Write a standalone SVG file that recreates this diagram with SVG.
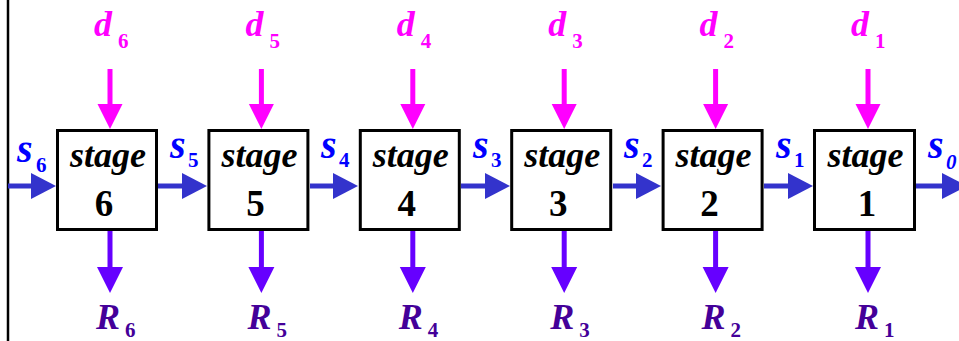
<svg xmlns="http://www.w3.org/2000/svg" width="959" height="341" viewBox="0 0 959 341">
  <style>
    text { font-family: "Liberation Serif", "Times New Roman", serif; font-weight: bold; }
    .box { fill: #ffffff; stroke: #000000; stroke-width: 3; }
    .stage { font-style: italic; font-size: 36px; fill: #000000; text-anchor: middle; }
    .num { font-size: 37px; fill: #000000; text-anchor: middle; }
    .d { fill: #ff00ff; }
    .s { fill: #0000ff; }
    .r { fill: #440099; }
    .main { font-style: italic; font-size: 36px; }
    .smain { font-style: italic; font-size: 40px; }
    .sub { font-size: 21px; }
    .din { stroke: #ff00ff; stroke-width: 5; fill: none; }
    .dhead { fill: #ff00ff; }
    .sflow { stroke: #3333cc; stroke-width: 5; fill: none; }
    .shead { fill: #3333cc; }
    .rout { stroke: #6600ff; stroke-width: 5; fill: none; }
    .rhead { fill: #6600ff; }
  </style>

  <!-- left boundary -->
  <line x1="8" y1="0" x2="8" y2="341" stroke="#000000" stroke-width="2.5"/>

  <!-- connectors -->
  <g id="connectors">
    <!-- state flow between stages -->
    <line class="sflow" x1="8" y1="186" x2="34" y2="186"/>
    <polygon class="shead" points="31,173 56,186 31,199"/>
    <line class="sflow" x1="158" y1="186" x2="185" y2="186"/>
    <polygon class="shead" points="182,173 207,186 182,199"/>
    <line class="sflow" x1="310" y1="186" x2="336" y2="186"/>
    <polygon class="shead" points="333,173 358,186 333,199"/>
    <line class="sflow" x1="461" y1="186" x2="488" y2="186"/>
    <polygon class="shead" points="485,173 510,186 485,199"/>
    <line class="sflow" x1="613" y1="186" x2="639" y2="186"/>
    <polygon class="shead" points="636,173 661,186 636,199"/>
    <line class="sflow" x1="764" y1="186" x2="791" y2="186"/>
    <polygon class="shead" points="788,173 813,186 788,199"/>
    <line class="sflow" x1="916" y1="186" x2="945" y2="186"/>
    <polygon class="shead" points="942,173 967,186 942,199"/>

    <!-- decisions in -->
    <line class="din" x1="110" y1="69" x2="110" y2="106"/>
    <polygon class="dhead" points="97.5,104 122.5,104 110,129"/>
    <line class="din" x1="261.4" y1="69" x2="261.4" y2="106"/>
    <polygon class="dhead" points="248.9,104 273.9,104 261.4,129"/>
    <line class="din" x1="412.8" y1="69" x2="412.8" y2="106"/>
    <polygon class="dhead" points="400.3,104 425.3,104 412.8,129"/>
    <line class="din" x1="564.2" y1="69" x2="564.2" y2="106"/>
    <polygon class="dhead" points="551.7,104 576.7,104 564.2,129"/>
    <line class="din" x1="715.6" y1="69" x2="715.6" y2="106"/>
    <polygon class="dhead" points="703.1,104 728.1,104 715.6,129"/>
    <line class="din" x1="868" y1="69" x2="868" y2="106"/>
    <polygon class="dhead" points="855.5,104 880.5,104 868,129"/>

    <!-- returns out -->
    <line class="rout" x1="110" y1="231" x2="110" y2="269"/>
    <polygon class="rhead" points="97,267 123,267 110,293"/>
    <line class="rout" x1="261.4" y1="231" x2="261.4" y2="269"/>
    <polygon class="rhead" points="248.4,267 274.4,267 261.4,293"/>
    <line class="rout" x1="412.8" y1="231" x2="412.8" y2="269"/>
    <polygon class="rhead" points="399.8,267 425.8,267 412.8,293"/>
    <line class="rout" x1="564.2" y1="231" x2="564.2" y2="269"/>
    <polygon class="rhead" points="551.2,267 577.2,267 564.2,293"/>
    <line class="rout" x1="715.6" y1="231" x2="715.6" y2="269"/>
    <polygon class="rhead" points="702.6,267 728.6,267 715.6,293"/>
    <line class="rout" x1="868" y1="231" x2="868" y2="269"/>
    <polygon class="rhead" points="855,267 881,267 868,293"/>
  </g>

  <!-- state labels -->
  <g id="state-labels">
    <text class="s smain" x="17" y="162">s</text><text class="s sub" x="36" y="172">6</text>
    <text class="s smain" x="170" y="158">s</text><text class="s sub" x="188" y="167">5</text>
    <text class="s smain" x="321" y="158">s</text><text class="s sub" x="339" y="167">4</text>
    <text class="s smain" x="473" y="158">s</text><text class="s sub" x="491" y="167">3</text>
    <text class="s smain" x="624" y="158">s</text><text class="s sub" x="642" y="167">2</text>
    <text class="s smain" x="776" y="158">s</text><text class="s sub" x="794" y="167">1</text>
    <text class="s smain" x="928" y="158">s</text><text class="s sub" x="946" y="169" font-style="italic">0</text>
  </g>

  <!-- stage 6 -->
  <g id="stage6">
    <rect class="box" x="57.5" y="130.5" width="99" height="99"/>
    <text class="stage" x="108" y="167">stage</text>
    <text class="num" x="104" y="216">6</text>
    <text class="d main" x="94" y="36">d</text><text class="d sub" x="118" y="48">6</text>
    <text class="r main" x="96" y="329">R</text><text class="r sub" x="125" y="337">6</text>
  </g>

  <!-- stage 5 -->
  <g id="stage5">
    <rect class="box" x="208.9" y="130.5" width="99" height="99"/>
    <text class="stage" x="259.4" y="167">stage</text>
    <text class="num" x="255.4" y="216">5</text>
    <text class="d main" x="245.4" y="36">d</text><text class="d sub" x="269.4" y="48">5</text>
    <text class="r main" x="247.4" y="329">R</text><text class="r sub" x="276.4" y="337">5</text>
  </g>

  <!-- stage 4 -->
  <g id="stage4">
    <rect class="box" x="360.3" y="130.5" width="99" height="99"/>
    <text class="stage" x="410.8" y="167">stage</text>
    <text class="num" x="406.8" y="216">4</text>
    <text class="d main" x="396.8" y="36">d</text><text class="d sub" x="420.8" y="48">4</text>
    <text class="r main" x="398.8" y="329">R</text><text class="r sub" x="427.8" y="337">4</text>
  </g>

  <!-- stage 3 -->
  <g id="stage3">
    <rect class="box" x="511.7" y="130.5" width="99" height="99"/>
    <text class="stage" x="562.2" y="167">stage</text>
    <text class="num" x="558.2" y="216">3</text>
    <text class="d main" x="548.2" y="36">d</text><text class="d sub" x="572.2" y="48">3</text>
    <text class="r main" x="550.2" y="329">R</text><text class="r sub" x="579.2" y="337">3</text>
  </g>

  <!-- stage 2 -->
  <g id="stage2">
    <rect class="box" x="663.1" y="130.5" width="99" height="99"/>
    <text class="stage" x="713.6" y="167">stage</text>
    <text class="num" x="709.6" y="216">2</text>
    <text class="d main" x="699.6" y="36">d</text><text class="d sub" x="723.6" y="48">2</text>
    <text class="r main" x="701.6" y="329">R</text><text class="r sub" x="730.6" y="337">2</text>
  </g>

  <!-- stage 1 -->
  <g id="stage1">
    <rect class="box" x="814.5" y="130.5" width="100" height="99"/>
    <text class="stage" x="865.5" y="167">stage</text>
    <text class="num" x="867" y="216">1</text>
    <text class="d main" x="851" y="36">d</text><text class="d sub" x="875" y="48">1</text>
    <text class="r main" x="855" y="329">R</text><text class="r sub" x="884" y="337">1</text>
  </g>
</svg>
